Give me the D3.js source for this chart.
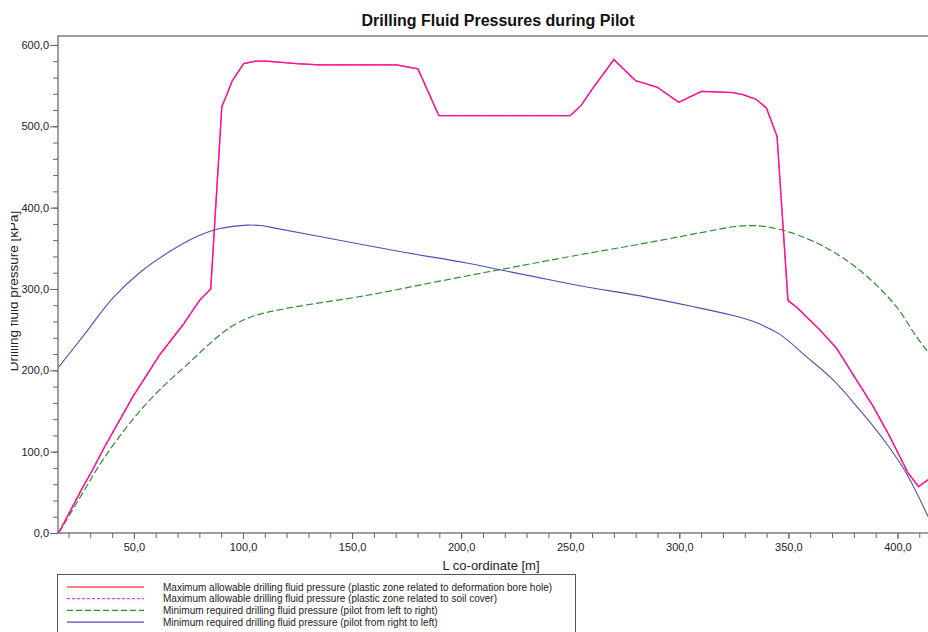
<!DOCTYPE html>
<html>
<head>
<meta charset="utf-8">
<script src="https://cdn.jsdelivr.net/npm/d3@7"></script>
<style>
  body { margin: 0; background: #fff; }
  svg { display: block; font-family: "Liberation Sans", Arial, sans-serif; }
</style>
</head>
<body>
<svg id="chart" width="928" height="632"></svg>
<script>
// ---- data (L co-ordinate [m], pressure [kPa]) ----
const seriesNames = [
  "Maximum allowable drilling fluid pressure (plastic zone related to deformation bore hole)",
  "Maximum allowable drilling fluid pressure (plastic zone related to soil cover)",
  "Minimum required drilling fluid pressure (pilot from left to right)",
  "Minimum required drilling fluid pressure (pilot from right to left)"
];
const maxBoreHole = [[15.5,0],[25.9,53],[30.5,75],[36.6,106],[49.6,168],[61.8,219],[72.5,256],[80.1,286],[85.2,300],[90.3,524],[95.1,556],[100.3,577],[105.8,580],[110.7,580],[124.5,577],[135.1,575.5],[170.3,575.5],[180.2,570.5],[189.8,513],[250,513],[255.1,526],[259.9,545],[270,582],[280,556],[289.9,548],[299.8,529.5],[310.1,543],[324.6,541.5],[329.1,539],[335.3,533],[339.9,522.5],[344.8,488],[349.8,286],[354.4,276],[364.3,250],[372,227.5],[379.6,195],[388.8,156],[396.4,119],[404.8,74],[409.7,57],[414,65.5]];
const maxSoilCover = [[15.5,0],[25.9,53],[30.5,75],[36.6,106],[49.6,168],[61.8,219],[72.5,256],[80.1,286],[85.2,300],[90.3,524],[95.1,556],[100.3,577],[105.8,580],[110.7,580],[124.5,577],[135.1,575.5],[170.3,575.5],[180.2,570.5],[189.8,513],[250,513],[255.1,526],[259.9,545],[270,582],[280,556],[289.9,548],[299.8,529.5],[310.1,543],[324.6,541.5],[329.1,539],[335.3,533],[339.9,522.5],[344.8,488],[349.8,286],[354.4,276],[364.3,250],[372,227.5],[379.6,195],[388.8,156],[396.4,119],[404.8,74],[409.7,57],[414,65.5]];
const minLeftToRight = [[15.5,0],[26.7,50],[35.8,90],[49.6,140],[61.8,176],[75.6,210],[87.8,240],[95.4,255],[103,265],[110.7,271],[126,279],[156.5,292],[187,308],[217.6,323.7],[248.1,339],[284.9,356.6],[315.4,372],[325,376.5],[332,378],[339.9,376.5],[353.7,367],[368.9,348.3],[384.2,319.7],[399.4,278.6],[408.6,241.7],[414,222.5]];
const minRightToLeft = [[15.5,204],[26.7,242],[40.4,289],[52.6,320],[67.9,348.5],[80.1,366],[88,373.5],[95.4,377],[102,378.5],[108,378],[115.3,374.5],[141.2,361.5],[171.8,346],[202.4,332],[217.6,323.7],[232.9,315.5],[254.4,304],[284.9,290],[307.8,277.4],[323.1,268.4],[333.7,260.2],[345.9,244.5],[358.1,217.2],[370.4,188.5],[382.6,151.6],[394.8,110.7],[404,73.8],[414,20.4]];
const xMajorTicks = [50,100,150,200,250,300,350,400];
const yMajorTicks = [0,100,200,300,400,500,600];

const svg = d3.select("#chart");
const pLeft = 58, pTop = 36, pBottom = 533, pRight = 928;

const x = d3.scaleLinear().domain([15.2, 414]).range([pLeft, pRight]);
const y = d3.scaleLinear().domain([0, 611]).range([pBottom, pTop]);
const fmt = v => d3.format(".1f")(v).replace(".", ",");

// title
svg.append("text").attr("x", 498).attr("y", 26).attr("text-anchor", "middle")
  .attr("font-size", 16).attr("font-weight", "bold").attr("fill", "#111")
  .text("Drilling Fluid Pressures during Pilot");

// clip for plot
const defs = svg.append("defs");
defs.append("clipPath").attr("id", "plotClip").append("rect")
  .attr("x", pLeft).attr("y", pTop).attr("width", pRight - pLeft + 5).attr("height", pBottom - pTop);
defs.append("clipPath").attr("id", "ylabClip").append("rect")
  .attr("x", 11).attr("y", 0).attr("width", 40).attr("height", 632);

// y axis
const yMinor = d3.range(0, 611, 20);
const yAxisG = svg.append("g").attr("transform", `translate(${pLeft},0)`);
yAxisG.call(d3.axisLeft(y).tickValues(yMinor).tickSize(5).tickFormat(""));
yAxisG.append("g").call(d3.axisLeft(y).tickValues(yMajorTicks).tickSize(8).tickPadding(1).tickFormat(fmt));
yAxisG.selectAll("path.domain").remove();
yAxisG.selectAll("line").attr("stroke", "#666");
yAxisG.selectAll("text").attr("font-size", 11).attr("fill", "#222")
  .attr("font-family", "'Liberation Sans', Arial, sans-serif");

// x axis
const xMinor = d3.range(20, 414, 10);
const xAxisG = svg.append("g").attr("transform", `translate(0,${pBottom})`);
xAxisG.call(d3.axisBottom(x).tickValues(xMinor).tickSize(5).tickFormat(""));
xAxisG.append("g").call(d3.axisBottom(x).tickValues(xMajorTicks).tickSize(6).tickPadding(4).tickFormat(fmt));
xAxisG.selectAll("path.domain").remove();
xAxisG.selectAll("line").attr("stroke", "#666");
xAxisG.selectAll("text").attr("font-size", 11).attr("fill", "#222")
  .attr("font-family", "'Liberation Sans', Arial, sans-serif");

// frame
svg.append("rect").attr("x", pLeft).attr("y", pTop).attr("width", pRight - pLeft + 10).attr("height", pBottom - pTop)
  .attr("fill", "none").attr("stroke", "#6a6a6a").attr("stroke-width", 1.3);

// axis labels
svg.append("text").attr("x", 491).attr("y", 570).attr("text-anchor", "middle")
  .attr("font-size", 13).attr("fill", "#222").text("L co-ordinate [m]");
svg.append("g").attr("clip-path", "url(#ylabClip)")
  .append("text").attr("transform", "translate(18,291) rotate(-90)").attr("text-anchor", "middle")
  .attr("font-size", 13.5).attr("fill", "#222").text("Drilling fluid pressure [kPa]");

// lines
const lineLin = d3.line().x(d => x(d[0])).y(d => y(d[1]));
const lineSmooth = d3.line().x(d => x(d[0])).y(d => y(d[1])).curve(d3.curveCatmullRom.alpha(0.5));
const plot = svg.append("g").attr("clip-path", "url(#plotClip)");
plot.append("path").datum(minLeftToRight).attr("d", lineSmooth)
  .attr("fill", "none").attr("stroke", "#2f8f2f").attr("stroke-width", 1.2).attr("stroke-dasharray", "7,3");
plot.append("path").datum(minRightToLeft).attr("d", lineSmooth)
  .attr("fill", "none").attr("stroke", "#5050b0").attr("stroke-width", 1.1);
plot.append("path").datum(maxBoreHole).attr("d", lineLin)
  .attr("fill", "none").attr("stroke", "#ff0050").attr("stroke-width", 1.3);
plot.append("path").datum(maxSoilCover).attr("d", lineLin)
  .attr("fill", "none").attr("stroke", "#ff10c8").attr("stroke-width", 1.3).attr("stroke-dasharray", "2,1");

// legend
const lg = svg.append("g");
lg.append("rect").attr("x", 57.5).attr("y", 574.5).attr("width", 518).attr("height", 70)
  .attr("fill", "#fff").attr("stroke", "#555").attr("stroke-width", 1);
const legStyles = [
  {c: "#ff0000", d: null, w: 1.2},
  {c: "#ff00ff", d: "3,2", w: 1},
  {c: "#2f8f2f", d: "6,3", w: 1.2},
  {c: "#2020a0", d: null, w: 1}
];
seriesNames.forEach((name, i) => {
  const yy = 587 + i * 11.7;
  lg.append("line").attr("x1", 67).attr("x2", 144).attr("y1", yy).attr("y2", yy)
    .attr("stroke", legStyles[i].c).attr("stroke-width", legStyles[i].w)
    .attr("stroke-dasharray", legStyles[i].d);
  lg.append("text").attr("x", 163).attr("y", yy + 3.5).attr("font-size", 10).attr("fill", "#222").text(name);
});
</script>
</body>
</html>
